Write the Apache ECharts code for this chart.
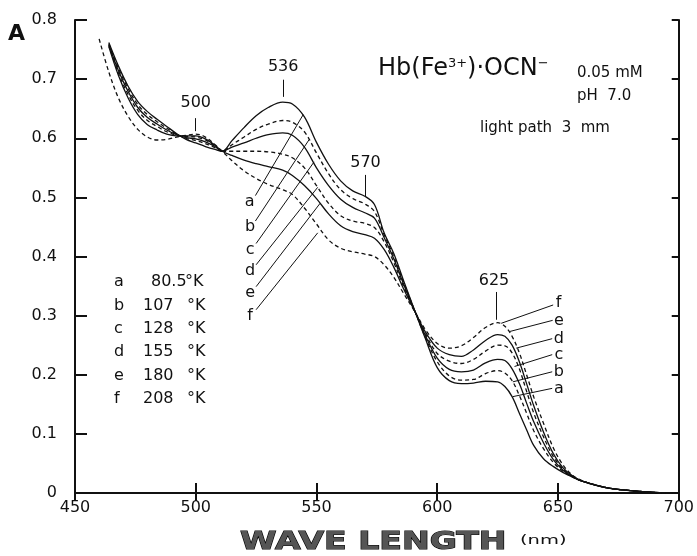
<!DOCTYPE html>
<html>
<head>
<meta charset="utf-8">
<script src="https://cdn.jsdelivr.net/npm/echarts@6/dist/echarts.min.js"></script>
<style>
html,body{margin:0;padding:0;background:#fff}
#main{width:697px;height:556px}
</style>
</head>
<body>
<div id="main"></div>
<script>
// wavelengths (nm), shared by all curves
var wavelengths = [460, 464, 468, 472, 476, 480, 484, 488, 492, 496, 500, 504, 508, 511,
    515, 520, 525, 530, 536, 540, 545, 550, 555, 560, 565, 570, 574, 578, 582, 586, 591,
    595, 600, 605, 610, 615, 620, 625, 628, 631, 634, 637, 640, 644, 648, 652, 656, 660, 670, 680, 690, 700];

// absorbance, curve a .. f
var absA = [null, 0.762, 0.722, 0.688, 0.662, 0.645, 0.632, 0.620, 0.608, 0.598, 0.592, 0.586, 0.581, 0.578,
    0.596, 0.618, 0.638, 0.652, 0.661, 0.658, 0.636, 0.593, 0.556, 0.528, 0.511, 0.502, 0.488, 0.440, 0.405, 0.360, 0.305,
    0.262, 0.212, 0.190, 0.185, 0.186, 0.189, 0.188, 0.180, 0.163, 0.135, 0.107, 0.080, 0.058, 0.045, 0.035, 0.027, 0.020, 0.009, 0.004, 0.001, 0];
var absB = [null, 0.760, 0.718, 0.684, 0.657, 0.640, 0.628, 0.617, 0.607, 0.600, 0.596, 0.591, 0.584, 0.578,
    0.589, 0.602, 0.615, 0.624, 0.630, 0.627, 0.611, 0.575, 0.540, 0.513, 0.498, 0.489, 0.476, 0.437, 0.400, 0.357, 0.305,
    0.264, 0.222, 0.198, 0.191, 0.192, 0.202, 0.207, 0.203, 0.190, 0.165, 0.135, 0.105, 0.075, 0.052, 0.037, 0.027, 0.020, 0.009, 0.004, 0.001, 0];
var absC = [null, 0.758, 0.714, 0.679, 0.652, 0.635, 0.624, 0.614, 0.606, 0.601, 0.599, 0.594, 0.586, 0.578,
    0.585, 0.592, 0.600, 0.606, 0.609, 0.605, 0.585, 0.550, 0.520, 0.497, 0.483, 0.474, 0.465, 0.432, 0.396, 0.354, 0.305,
    0.267, 0.228, 0.209, 0.205, 0.208, 0.220, 0.226, 0.224, 0.210, 0.185, 0.152, 0.120, 0.085, 0.057, 0.039, 0.028, 0.020, 0.009, 0.004, 0.001, 0];
var absD = [null, 0.757, 0.710, 0.674, 0.647, 0.630, 0.620, 0.611, 0.605, 0.603, 0.602, 0.597, 0.587, 0.578,
    0.578, 0.578, 0.578, 0.577, 0.573, 0.567, 0.550, 0.520, 0.490, 0.469, 0.460, 0.456, 0.449, 0.425, 0.390, 0.350, 0.305,
    0.270, 0.236, 0.223, 0.219, 0.226, 0.240, 0.250, 0.249, 0.237, 0.210, 0.172, 0.135, 0.095, 0.062, 0.041, 0.028, 0.020, 0.009, 0.004, 0.001, 0];
var absE = [null, 0.755, 0.706, 0.668, 0.640, 0.623, 0.614, 0.607, 0.604, 0.604, 0.604, 0.599, 0.588, 0.578,
    0.571, 0.563, 0.557, 0.552, 0.546, 0.537, 0.520, 0.498, 0.472, 0.452, 0.442, 0.437, 0.431, 0.412, 0.382, 0.346, 0.305,
    0.273, 0.245, 0.234, 0.231, 0.242, 0.258, 0.268, 0.265, 0.250, 0.222, 0.185, 0.147, 0.103, 0.067, 0.043, 0.029, 0.020, 0.009, 0.004, 0.001, 0];
var absF = [0.768, 0.712, 0.668, 0.637, 0.615, 0.602, 0.597, 0.598, 0.602, 0.605, 0.607, 0.602, 0.589, 0.578,
    0.562, 0.545, 0.532, 0.522, 0.513, 0.505, 0.482, 0.455, 0.428, 0.414, 0.408, 0.404, 0.400, 0.386, 0.365, 0.338, 0.305,
    0.277, 0.253, 0.245, 0.249, 0.263, 0.280, 0.288, 0.282, 0.265, 0.237, 0.200, 0.162, 0.118, 0.077, 0.048, 0.030, 0.021, 0.009, 0.004, 0.001, 0];

var curveNames = ['a', 'b', 'c', 'd', 'e', 'f'];
var temps = ['80.5', '107', '128', '155', '180', '208'];

// leader lines to the curve letters: [lambda1, A1, lambda2, A2]
var leftLeaders = [[524.7, 0.503, 544.5, 0.640], [524.7, 0.460, 547, 0.598], [525, 0.422, 549, 0.560],
    [525, 0.386, 550.5, 0.517], [525, 0.349, 551.5, 0.490], [525, 0.310, 550.5, 0.440]];
var leftLetterPos = [[522.3, 0.493], [522.5, 0.450], [522.5, 0.412], [522.5, 0.376], [522.5, 0.339], [522.5, 0.299]];
var rightLeaders = [[631.3, 0.163, 647.6, 0.177], [631.3, 0.188, 647.6, 0.205], [632, 0.214, 647.6, 0.234],
    [632.7, 0.245, 647.6, 0.261], [629.9, 0.273, 647.8, 0.292], [626.5, 0.287, 648, 0.318]];
var rightLetterPos = [[650.4, 0.177], [650.4, 0.205], [650.4, 0.233], [650.4, 0.260], [650.4, 0.291], [650.2, 0.321]];

// peak markers
var peakNames = ['500', '536', '570', '625'];
var peakTicks = [[500, 0.612, 500, 0.634], [536.2, 0.670, 536.2, 0.699], [570.3, 0.502, 570.3, 0.538], [624.5, 0.293, 624.5, 0.340]];
var peakLabelPos = [[500, 0.660], [536.2, 0.720], [570.3, 0.558], [623.5, 0.358]];

var ink = '#111';
var myChart = echarts.init(document.getElementById('main'), null, {renderer: 'canvas'});

var absAll = [absA, absB, absC, absD, absE, absF];
var series = [];
for (var i = 0; i < 6; i++) {
    var pts = [];
    for (var k = 0; k < wavelengths.length; k++) {
        if (absAll[i][k] != null) pts.push([wavelengths[k], absAll[i][k]]);
    }
    series.push({
        name: curveNames[i],
        type: 'line',
        data: pts,
        showSymbol: false,
        smooth: 0.35,
        lineStyle: {color: ink, width: 1.3, type: i % 2 == 0 ? 'solid' : [4, 3]},
        z: 3
    });
}

var segs = [];
leftLeaders.concat(rightLeaders).concat(peakTicks).forEach(function (s) {
    segs.push({coords: [[s[0], s[1]], [s[2], s[3]]]});
});
series.push({
    type: 'lines',
    coordinateSystem: 'cartesian2d',
    data: segs,
    lineStyle: {color: ink, width: 1, opacity: 1},
    z: 4
});

var labelPts = [];
for (var j = 0; j < 6; j++) {
    labelPts.push({name: curveNames[j], value: leftLetterPos[j]});
    labelPts.push({name: curveNames[j], value: rightLetterPos[j]});
}
for (var p = 0; p < peakNames.length; p++) {
    labelPts.push({name: peakNames[p], value: peakLabelPos[p]});
}
series.push({
    type: 'scatter',
    data: labelPts,
    symbolSize: 1,
    itemStyle: {color: 'rgba(0,0,0,0)', opacity: 1},
    label: {
        show: true, position: 'inside', formatter: '{b}', opacity: 1,
        color: ink, fontSize: 16, fontFamily: 'DejaVu Sans'
    },
    z: 5
});

// temperature list on the left
var graphics = [];
for (var r = 0; r < 6; r++) {
    var yy = 283 + r * 23.4;
    graphics.push({type: 'text', left: 114, top: yy - 9, style: {text: curveNames[r], fill: ink, font: '16px "DejaVu Sans"'}});
    graphics.push({type: 'text', left: temps[r].length > 3 ? 151 : 143, top: yy - 9, style: {text: temps[r], fill: ink, font: '16px "DejaVu Sans"'}});
    graphics.push({type: 'text', left: r == 0 ? 185 : 187, top: yy - 9, style: {text: '°K', fill: ink, font: '16px "DejaVu Sans"'}});
}
graphics.push({
    type: 'text', left: 378, top: 57,
    style: {
        text: '{m|Hb(Fe}{s|3+}{m|)·OCN}{s|−}',
        rich: {
            m: {fontSize: 24, fontFamily: 'DejaVu Sans', fill: ink, color: ink},
            s: {fontSize: 13, fontFamily: 'DejaVu Sans', fill: ink, color: ink, verticalAlign: 'top'}
        }
    }
});
graphics.push({type: 'text', left: 577, top: 66, style: {text: '0.05 mM', fill: ink, font: '15px "DejaVu Sans"'}});
graphics.push({type: 'text', left: 577, top: 89, style: {text: 'pH  7.0', fill: ink, font: '15px "DejaVu Sans"'}});
graphics.push({type: 'text', left: 480, top: 121, style: {text: 'light path  3  mm', fill: ink, font: '15px "DejaVu Sans"'}});
graphics.push({type: 'text', left: 8, top: 23, style: {text: 'A', fill: ink, font: 'bold 22px "DejaVu Sans"'}});
graphics.push({type: 'text', x: 240, y: 531, scaleX: 1.38, style: {text: 'WAVE LENGTH', fill: '#555', stroke: '#000', lineWidth: 1, font: 'bold 24px "DejaVu Sans"'}});
graphics.push({type: 'text', x: 520, y: 534, scaleX: 1.5, style: {text: '(nm)', fill: ink, font: '13px "DejaVu Sans"'}});

var option = {
    backgroundColor: '#fff',
    animation: false,
    grid: {left: 75, right: 13, top: 20, bottom: 63},
    xAxis: [
        {
            type: 'value', min: 450, max: 700, interval: 50, position: 'bottom',
            axisLine: {show: true, lineStyle: {color: ink, width: 2}},
            axisTick: {show: true, inside: true, length: 10, lineStyle: {color: ink, width: 2}},
            axisLabel: {color: ink, fontSize: 16, fontFamily: 'DejaVu Sans', margin: 7},
            splitLine: {show: false}
        },
        {
            type: 'value', min: 450, max: 700, interval: 50, position: 'top',
            axisLine: {show: true, lineStyle: {color: ink, width: 2}},
            axisTick: {show: true, inside: true, length: 8, lineStyle: {color: ink, width: 2}},
            axisLabel: {show: false},
            splitLine: {show: false}
        }
    ],
    yAxis: [
        {
            type: 'value', min: 0, max: 0.8, interval: 0.1, position: 'left',
            axisLine: {show: true, lineStyle: {color: ink, width: 2}},
            axisTick: {show: true, inside: true, length: 12, lineStyle: {color: ink, width: 2}},
            axisLabel: {
                color: ink, fontSize: 16, fontFamily: 'DejaVu Sans', margin: 18,
                formatter: function (v) { return v === 0 ? '0' : v.toFixed(1); }
            },
            splitLine: {show: false}
        },
        {
            type: 'value', min: 0, max: 0.8, interval: 0.1, position: 'right',
            axisLine: {show: true, lineStyle: {color: ink, width: 2}},
            axisTick: {show: true, inside: true, length: 7, lineStyle: {color: ink, width: 2}},
            axisLabel: {show: false},
            splitLine: {show: false}
        }
    ],
    graphic: graphics,
    series: series
};
myChart.setOption(option);
window.onresize = myChart.resize;
</script>
</body>
</html>
